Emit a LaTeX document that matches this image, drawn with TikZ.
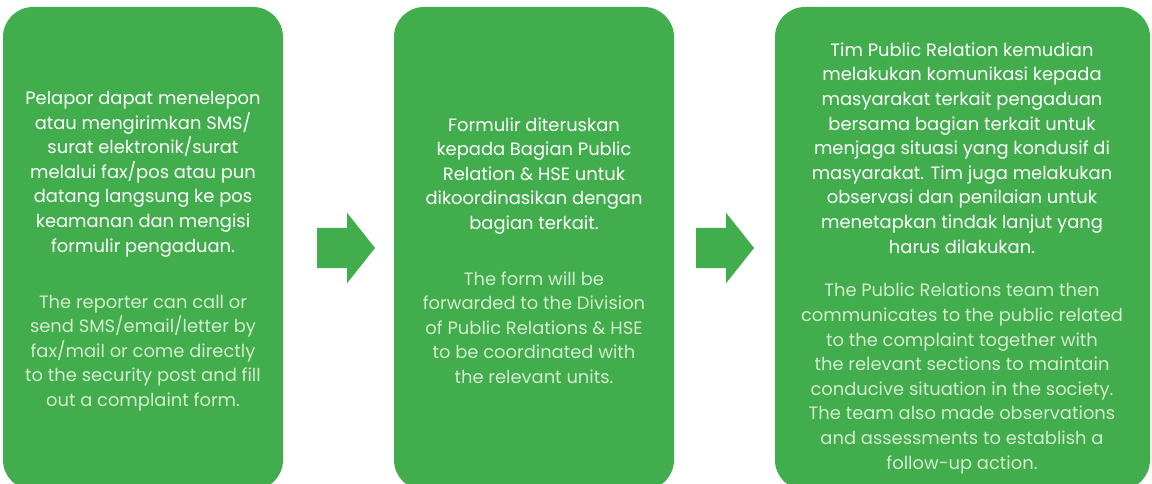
\documentclass[tikz,border=0pt]{standalone}
\usepackage{fontspec}
\setmainfont{Poppins}
\usetikzlibrary{shapes.arrows}
\definecolor{pgreen}{HTML}{41AD4C}
\definecolor{ltext}{HTML}{D4EBCE}
\tikzset{
  panel/.style={fill=pgreen, rounded corners=30pt, inner sep=0pt, minimum width=280pt},
  para/.style={align=center, inner sep=0pt, font=\fontsize{17.9}{24.6}\selectfont},
  indo/.style={para, text=white},
  engl/.style={para, text=ltext},
  flow/.style={single arrow, fill=pgreen, inner xsep=0pt, inner ysep=20pt,
    single arrow head extend=15pt, single arrow tip angle=103, minimum height=58pt},
}
\begin{document}
\begin{tikzpicture}[x=1pt, y=-1pt]
\useasboundingbox (0,0) rectangle (1152,484);
\node[panel, minimum height=483pt] (b1) at (143,248.5) {};
\node[panel, minimum height=483pt] (b2) at (534,248.5) {};
\node[panel, minimum height=483pt, minimum width=375pt] (b3) at (962.5,248.5) {};
\node[flow] (a1) at (338,248) {};
\node[flow] (a2) at (717,248) {};
\node[indo] (t1) at (143,174) {Pelapor dapat menelepon\\atau mengirimkan SMS/\\surat elektronik/surat\\melalui fax/pos atau pun\\datang langsung ke pos\\keamanan dan mengisi\\formulir pengaduan.};
\node[engl] (e1) at (143,353) {The reporter can call or\\send SMS/email/letter by\\fax/mail or come directly\\to the security post and fill\\out a complaint form.};
\node[indo] (t2) at (534,176) {Formulir diteruskan\\kepada Bagian Public\\Relation \& HSE untuk\\dikoordinasikan dengan\\bagian terkait.};
\node[engl] (e2) at (534,327.5) {The form will be\\forwarded to the Division\\of Public Relations \& HSE\\to be coordinated with\\the relevant units.};
\node[indo] (t3) at (962,148) {Tim Public Relation kemudian\\melakukan komunikasi kepada\\masyarakat terkait pengaduan\\bersama bagian terkait untuk\\menjaga situasi yang kondusif di\\masyarakat. Tim juga melakukan\\observasi dan penilaian untuk\\menetapkan tindak lanjut yang\\harus dilakukan.};
\node[engl] (e3) at (962,378.5) {The Public Relations team then\\communicates to the public related\\to the complaint together with\\the relevant sections to maintain\\conducive situation in the society.\\The team also made observations\\and assessments to establish a\\follow-up action.};
\end{tikzpicture}
\end{document}
